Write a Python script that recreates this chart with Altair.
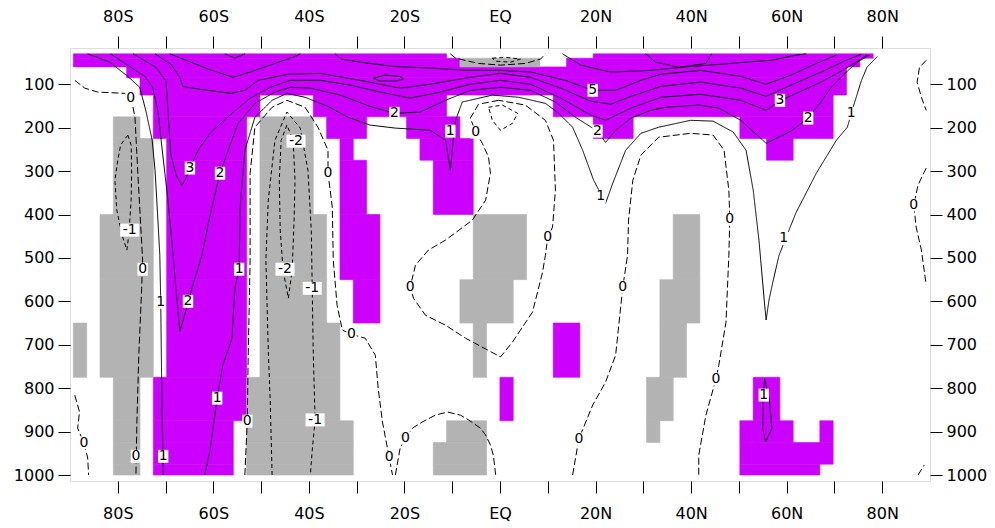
import altair as alt
import pandas as pd

# ---------------- grid of the significance shading ----------------
LAT_EDGE0 = -89.3      # southern edge of first Gaussian-grid column
LAT_STEP = 2.79        # T42 spacing
PRESS_EDGES = [30, 40, 60, 85, 125, 175, 225, 275, 400, 550, 650, 775, 875, 925, 975, 1000]

# runs of columns (inclusive) per pressure row (row 0 = top)
PURPLE_RUNS = {
    0: [(0, 27), (39, 59)],
    1: [(0, 28), (37, 58)],
    2: [(4, 57)],
    3: [(5, 57)],
    4: [(6, 13), (18, 27), (36, 56)],
    5: [(6, 12), (19, 21), (25, 28), (39, 41), (50, 56)],
    6: [(7, 12), (20, 20), (26, 29), (52, 53)],
    7: [(7, 12), (20, 21), (27, 29)],
    8: [(7, 12), (20, 22)],
    9: [(7, 12), (21, 22)],
    10: [(7, 12), (36, 37)],
    11: [(6, 12), (32, 32), (51, 52)],
    12: [(6, 11), (50, 53), (56, 56)],
    13: [(6, 11), (50, 56)],
    14: [(6, 11), (50, 55)],
}
GRAY_RUNS = {
    1: [(29, 34)],
    5: [(3, 4), (14, 17)],
    6: [(3, 5), (14, 17)],
    7: [(3, 5), (14, 17)],
    8: [(2, 5), (14, 18), (30, 33), (45, 46)],
    9: [(2, 5), (14, 18), (29, 32), (44, 46)],
    10: [(0, 0), (2, 5), (14, 19), (30, 30), (44, 45)],
    11: [(3, 4), (13, 19), (43, 44)],
    12: [(3, 4), (13, 20), (28, 30), (43, 43)],
    13: [(3, 4), (13, 20), (27, 30)],
    14: [(3, 4), (13, 20), (27, 30)],
}

# ---------------- contour lines (lat, hPa) ----------------
Z80S_LAT = [-89.0, -86.9, -84.2, -78.5, -77.1, -76.4, -75.8, -74.8, -75.0, -75.6, -76.0, -76.2]
Z80S_P = [91, 109, 118, 121, 137, 176, 305, 505, 570, 724, 878, 1000]

N1_80S_LAT = [-77.9, -79.4, -80.0, -80.6, -80.2, -79.1, -78.1, -77.7, -77.2, -77.1, -77.2, -77.9]
N1_80S_P = [217, 240, 275, 321, 390, 448, 482, 448, 367, 298, 240, 217]

P1_75S_LAT = [-86.3, -81.7, -77.9, -75.4, -74.1, -72.8, -72.2, -71.6, -71.2, -71.0, -70.8, -70.5]
P1_75S_P = [30, 49, 82, 107, 162, 229, 298, 413, 494, 609, 800, 1000]

P1_LAT = [-61.8, -60.7, -59.2, -58.0, -56.1, -55.5, -54.6, -54.4, -53.4, -51.3, -47.7, -44.6, -40.8,
          -36.0, -31.8, -27.2, -21.9, -14.6, -11.4, -10.4, -9.8, -9.3, -7.9, -1.6, 3.9, 9.5, 12.3,
          15.2, 17.3, 19.6, 22.1, 23.6, 26.3, 29.5, 33.2, 39.9, 44.6, 48.8, 51.5, 53.0, 54.2, 55.3,
          55.7, 56.3, 57.1, 58.4, 61.9, 66.2, 70.4, 72.7, 74.1, 75.6, 76.8, 79.0]
P1_P = [1000, 943, 823, 747, 685, 570, 526, 383, 252, 176, 137, 121, 130,
        151, 176, 194, 201, 206, 229, 298, 229, 183, 141, 125, 130, 144, 167,
        199, 252, 321, 374, 328, 252, 213, 199, 183, 185, 210, 252, 344, 459, 597,
        643, 597, 556, 494, 397, 305, 229, 199, 146, 93, 61, 36]

P2_LAT = [-81.5, -77.5, -74.3, -72.7, -71.6, -70.6, -69.5, -68.7, -67.8, -67.0, -65.7, -64.3,
          -62.4, -60.7, -58.6, -56.9, -54.8, -51.3, -47.1, -43.9, -39.7, -33.4, -27.2, -22.1,
          -16.7, -11.4, -6.2, 0.1, 6.4, 11.6, 15.8, 20.4, 22.1, 24.2, 27.4, 31.6, 34.7, 41.6, 45.8,
          50.4, 55.7, 60.9, 64.5, 67.2, 69.3, 72.0, 74.8, 77.3]
P2_P = [30, 59, 82, 107, 162, 261, 367, 459, 574, 669, 620, 563,
        494, 402, 305, 252, 190, 144, 118, 107, 109, 125, 151, 167,
        164, 137, 114, 107, 114, 141, 176, 208, 234, 206, 178, 160, 153, 148, 155,
        183, 236, 208, 178, 141, 107, 77, 49, 33]

P3_LAT = [-76.8, -72.0, -69.9, -69.5, -68.9, -67.8, -66.6, -65.7, -64.9, -63.2, -60.7, -56.5,
          -52.3, -48.1, -43.9, -37.6, -31.3, -25.1, -18.8, -12.5, -6.2, 0.1, 6.4, 12.7, 19.0,
          22.1, 27.4, 33.7, 42.0, 50.4, 55.7, 58.8, 63.0, 67.2, 71.4, 74.8, 76.8]
P3_P = [30, 61, 93, 162, 261, 309, 333, 316, 293, 252, 213, 171,
        132, 107, 91, 91, 102, 118, 132, 118, 100, 91, 100, 132, 171,
        183, 155, 130, 123, 137, 160, 137, 116, 95, 70, 47, 33]

P4_LAT = [-72.2, -68.9, -67.0, -66.4, -62.6, -56.3, -53.4, -50.6, -44.3, -37.6, -29.3, -20.9,
          -14.6, -6.2, 0.1, 6.4, 12.7, 19.0, 23.2, 27.4, 33.7, 42.0, 50.4, 55.7, 60.9, 67.2,
          72.4, 75.6]
P4_P = [30, 54, 84, 105, 112, 121, 114, 91, 77, 75, 91, 109,
        100, 84, 75, 84, 109, 139, 146, 128, 105, 95, 109, 128, 102, 72,
        45, 31]

P5W_LAT = [-69.1, -64.7, -61.1, -55.9, -52.3, -47.1, -42.9, -41.8]
P5W_P = [30, 49, 65, 84, 72, 52, 36, 30]

P5E_LAT = [-34.5, -33.2, -29.3, -22.3, -13.9, -7.2, 0.1, 6.4, 13.7,
           19.4, 24.2, 29.5, 33.7, 42.0, 50.4, 55.7, 60.9, 66.2, 70.4]
P5E_P = [30, 42, 49, 59, 63, 68, 68, 72, 91,
         114, 114, 91, 77, 68, 82, 100, 79, 52, 33]

P5_OVAL_LAT = [-26.5, -24.0, -20.9, -20.2, -21.9, -25.1, -26.5]
P5_OVAL_P = [86, 79, 82, 88, 93, 93, 86]

P6_SHV_LAT = [-57.6, -55.5, -53.4]
P6_SHV_P = [30, 40, 30]

P6_NH_LAT = [13.1, 16.9, 23.2, 31.6, 39.9, 46.2, 51.5, 56.7, 62.0, 64.1]
P6_NH_P = [30, 56, 72, 68, 59, 54, 49, 45, 33, 30]

P7_NH_LAT = [30.5, 32.6, 37.4, 43.1, 44.3]
P7_NH_P = [30, 49, 61, 52, 30]

Z40S_LAT = [-53.4, -52.9, -52.7, -52.3, -52.3, -51.3, -47.7, -44.6, -40.8, -38.1, -36.0, -36.0,
            -35.1, -34.9, -34.1, -33.0, -31.1, -28.2, -26.1, -25.5, -24.6, -23.2, -22.5]
Z40S_P = [1000, 876, 724, 505, 305, 199, 153, 137, 153, 199, 252, 305,
          383, 505, 609, 666, 676, 685, 724, 800, 878, 959, 1000]

N1_40S_LAT = [-47.7, -48.1, -48.5, -49.0, -48.5, -47.1, -44.6, -41.8, -40.2, -39.5, -39.3, -39.1,
              -38.7, -39.3, -39.7]
N1_40S_P = [1000, 827, 712, 505, 367, 229, 164, 201, 298, 436, 570, 712, 873, 943, 1000]

N2_40S_LAT = [-44.6, -45.8, -46.2, -46.0, -45.4, -44.3, -43.5, -43.1, -42.9, -43.3, -44.6]
N2_40S_P = [194, 229, 321, 436, 528, 593, 528, 413, 321, 229, 194]

ZEQ_LAT = [-0.3, -4.5, -6.2, -5.1, -3.7, -2.4, -2.0, -3.0, -5.8, -11.4, -15.0, -17.7, -18.8, -18.1,
           -15.6, -11.4, -7.2, 0.1, 2.6, 6.8, 8.9, 9.5, 10.0, 11.0, 11.6, 11.2, 9.5, 5.3, -0.3]
ZEQ_P = [137, 146, 178, 210, 236, 268, 305, 367, 413, 459, 482, 517, 567, 593,
         632, 655, 685, 728, 694, 625, 533, 494, 452, 429, 344, 229, 183, 148, 137]

NEQ_LAT = [-2.4, 0.5, 3.7, 2.6, 0.1, -1.6, -2.4]
NEQ_P = [153, 148, 167, 190, 206, 183, 153]

ZTOP_LAT = [-10.4, -9.3, -4.5, 0.1, 5.3, 8.5, 9.5]
ZTOP_P = [30, 40, 52, 56, 52, 42, 30]
NTOP_LAT = [-1.6, 1.2, 4.3, 2.2, -0.9, -1.6]
NTOP_P = [40, 38, 42, 49, 47, 40]

ZDOME_LAT = [-21.9, -20.9, -19.8, -18.3, -16.3, -13.5, -11.0, -8.3, -6.6, -4.1, -3.0, -2.0, -1.4, -0.9]
ZDOME_P = [1000, 938, 915, 892, 878, 862, 855, 862, 873, 892, 908, 931, 954, 1000]

ZNH_LAT = [15.2, 16.5, 19.4, 22.1, 24.2, 25.7, 26.7, 26.9, 27.8, 29.5, 33.2, 39.9, 44.6, 46.9,
           47.9, 48.1, 47.9, 47.3, 45.8, 45.2, 43.1, 41.6, 41.6]
ZNH_P = [1000, 917, 839, 786, 724, 567, 494, 413, 321, 263, 222, 213, 217, 252,
         344, 411, 494, 648, 747, 779, 862, 954, 1000]

P1_60N_LAT = [55.4, 55.0, 55.0, 55.6, 56.9, 56.4, 55.4]
P1_60N_P = [778, 829, 893, 924, 893, 829, 778]

ZPOLE_A_LAT = [89.2, 87.8, 87.3, 88.2, 89.2]
ZPOLE_A_P = [45, 61, 95, 130, 160]
ZPOLE_B_LAT = [89.2, 87.5, 86.6, 87.1, 88.2, 89.2]
ZPOLE_B_P = [293, 332, 378, 429, 482, 562]
ZPOLE_C_LAT = [87.5, 88.8]
ZPOLE_C_P = [1000, 977]

ZSP_LAT = [-89.0, -88.0, -88.4, -87.1, -86.3, -86.1]
ZSP_P = [816, 855, 892, 926, 961, 1000]

# ---------------- contour labels ----------------
LABEL_TEXT = ["0", "0", "0", "-1", "1", "1", "2", "2", "3", "-2", "-2", "-1", "-1",
              "0", "0", "0", "0", "1", "1", "1", "2", "1", "0", "0", "0", "0",
              "2", "5", "1", "0", "0", "0", "0", "3", "2", "1", "1", "0", "0"]
LABEL_LAT = [-77.3, -74.8, -76.2, -77.5, -71.0, -70.5, -65.3, -58.6, -64.9, -42.7, -45.0, -39.3, -38.7,
             -36.0, -31.1, -52.9, -23.2, -59.2, -54.6, -10.4, -22.1, 21.1, -5.1, -18.8, 10.0, -19.8,
             20.4, 19.4, 59.4, 25.7, 48.1, 45.2, 16.5, 58.6, 64.5, 73.5, 55.2, 86.6, -87.1]
LABEL_P = [132, 526, 957, 436, 602, 957, 600, 305, 293, 231, 526, 570, 873,
           305, 676, 876, 959, 823, 526, 208, 167, 358, 210, 567, 452, 915,
           208, 114, 455, 567, 411, 779, 917, 137, 178, 167, 816, 378, 926]

# ---------------- build tables ----------------
cells = []
for sig, runs_by_row in (("P", PURPLE_RUNS), ("G", GRAY_RUNS)):
    for row, runs in runs_by_row.items():
        for a, b in runs:
            cells.append({
                "sig": sig,
                "lat0": LAT_EDGE0 + a * LAT_STEP,
                "lat1": LAT_EDGE0 + (b + 1) * LAT_STEP,
                "p0": PRESS_EDGES[row],
                "p1": PRESS_EDGES[row + 1],
            })
cells_df = pd.DataFrame(cells)

contours = [
    ("Z80S", "zero", Z80S_LAT, Z80S_P),
    ("N1_80S", "neg", N1_80S_LAT, N1_80S_P),
    ("P1_75S", "pos", P1_75S_LAT, P1_75S_P),
    ("P1", "pos", P1_LAT, P1_P),
    ("P2", "pos", P2_LAT, P2_P),
    ("P3", "pos", P3_LAT, P3_P),
    ("P4", "pos", P4_LAT, P4_P),
    ("P5W", "pos", P5W_LAT, P5W_P),
    ("P5E", "pos", P5E_LAT, P5E_P),
    ("P5_OVAL", "pos", P5_OVAL_LAT, P5_OVAL_P),
    ("P6_SHV", "pos", P6_SHV_LAT, P6_SHV_P),
    ("P6_NH", "pos", P6_NH_LAT, P6_NH_P),
    ("P7_NH", "pos", P7_NH_LAT, P7_NH_P),
    ("Z40S", "zero", Z40S_LAT, Z40S_P),
    ("N1_40S", "neg", N1_40S_LAT, N1_40S_P),
    ("N2_40S", "neg", N2_40S_LAT, N2_40S_P),
    ("ZEQ", "zero", ZEQ_LAT, ZEQ_P),
    ("NEQ", "neg", NEQ_LAT, NEQ_P),
    ("ZTOP", "zero", ZTOP_LAT, ZTOP_P),
    ("NTOP", "neg", NTOP_LAT, NTOP_P),
    ("ZDOME", "zero", ZDOME_LAT, ZDOME_P),
    ("ZNH", "zero", ZNH_LAT, ZNH_P),
    ("P1_60N", "pos", P1_60N_LAT, P1_60N_P),
    ("ZPOLE_A", "zero", ZPOLE_A_LAT, ZPOLE_A_P),
    ("ZPOLE_B", "zero", ZPOLE_B_LAT, ZPOLE_B_P),
    ("ZPOLE_C", "zero", ZPOLE_C_LAT, ZPOLE_C_P),
    ("ZSP", "zero", ZSP_LAT, ZSP_P),
]
rows = []
for cid, style, lats, ps in contours:
    for i, (la, pp) in enumerate(zip(lats, ps)):
        rows.append({"id": cid, "style": style, "order": i, "lat": la, "p": pp})
lines_df = pd.DataFrame(rows)

labels_df = pd.DataFrame({"text": LABEL_TEXT, "lat": LABEL_LAT, "p": LABEL_P})
labels_df["box"] = ["w" if len(t) > 1 else "s" for t in LABEL_TEXT]

# ---------------- chart ----------------
FONT = "DejaVu Sans"
xscale = alt.Scale(domain=[-90, 90], nice=False, zero=False)
yscale = alt.Scale(domain=[16.5, 1013.8], reverse=True, nice=False, zero=False)

lat_ticks = list(range(-80, 81, 10))
p_ticks = list(range(100, 1001, 100))
lat_label = ("datum.value % 20 == 0 ? (datum.value == 0 ? 'EQ' : (datum.value < 0 ? "
             "(-datum.value) + 'S' : datum.value + 'N')) : ''")

def xaxis(orient):
    return alt.Axis(orient=orient, values=lat_ticks, labelExpr=lat_label, title=None,
                    tickSize=12, labelPadding=12, grid=False, domain=False,
                    labelFont=FONT, labelFontSize=16, labelColor="black",
                    tickColor="black", tickWidth=1)

def yaxis(orient):
    return alt.Axis(orient=orient, values=p_ticks, format="d", title=None,
                    tickSize=12, labelPadding=4, grid=False, domain=False,
                    labelFont=FONT, labelFontSize=16, labelColor="black",
                    tickColor="black", tickWidth=1)

sig_scale = alt.Scale(domain=["P", "G"], range=["#cc00ff", "#b3b3b3"])

shade = alt.Chart(cells_df).mark_rect(strokeWidth=0.6).encode(
    x=alt.X("lat0:Q", scale=xscale, axis=xaxis("bottom")),
    x2="lat1:Q",
    y=alt.Y("p0:Q", scale=yscale, axis=yaxis("left")),
    y2="p1:Q",
    color=alt.Color("sig:N", scale=sig_scale, legend=None),
    stroke=alt.Stroke("sig:N", scale=sig_scale, legend=None),
)

lines = alt.Chart(lines_df).mark_line(color="black", strokeWidth=1, clip=True).encode(
    x=alt.X("lat:Q", scale=xscale, axis=xaxis("top")),
    y=alt.Y("p:Q", scale=yscale, axis=yaxis("right")),
    detail="id:N",
    order="order:Q",
    strokeDash=alt.StrokeDash("style:N",
                              scale=alt.Scale(domain=["pos", "zero", "neg"],
                                              range=[[1, 0], [7, 3], [4, 3]]),
                              legend=None),
)

box_shapes = alt.Scale(domain=["s", "w"],
                       range=["M-0.6,-0.75H0.6V0.75H-0.6Z", "M-1.1,-0.75H1.1V0.75H-1.1Z"])
boxes = alt.Chart(labels_df).mark_point(filled=True, color="white", opacity=1, size=300,
                                        strokeWidth=0).encode(
    x=alt.X("lat:Q", scale=xscale, axis=None),
    y=alt.Y("p:Q", scale=yscale, axis=None),
    shape=alt.Shape("box:N", scale=box_shapes, legend=None),
)

texts = alt.Chart(labels_df).mark_text(font=FONT, fontSize=14, color="black",
                                       align="center", baseline="middle").encode(
    x=alt.X("lat:Q", scale=xscale, axis=None),
    y=alt.Y("p:Q", scale=yscale, axis=None),
    text="text:N",
)

chart = alt.layer(shade, lines, boxes, texts).resolve_axis(
    x="independent", y="independent"
).properties(
    width=860, height=433, autosize="none",
    padding={"left": 70, "top": 48, "right": 65, "bottom": 47},
).configure_view(stroke="black", strokeWidth=1.2).configure(background="white")

chart.save("out.html", embed_options={"renderer": "svg", "actions": False})
